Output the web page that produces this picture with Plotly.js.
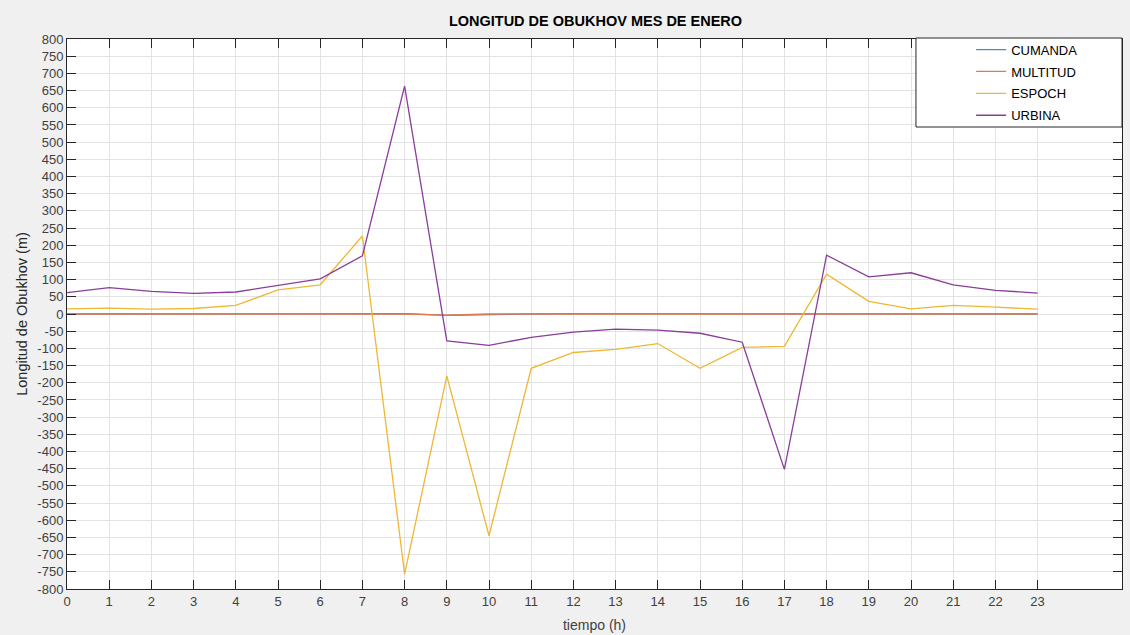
<!DOCTYPE html>
<html>
<head>
<meta charset="utf-8">
<script src="https://cdn.plot.ly/plotly-3.0.1.min.js"></script>
<style>html,body{margin:0;padding:0;background:#f0f0f0;}#chart{width:1130px;height:635px;}</style>
</head>
<body>
<div id="chart"></div>
<script>
const hours = [0,1,2,3,4,5,6,7,8,9,10,11,12,13,14,15,16,17,18,19,20,21,22,23];
const cumanda  = [0,0,0,0,0,0,0,0,1,-4,-1,0,1,1,0,0,0,0,0,0,0,0,0,0];
const multitud = [0,0,0,0,0,0,0,0,0,-3,0,0,0,0,0,0,0,0,0,0,0,0,0,0];
const espoch   = [15,17,14,16,25,70,85,227,-757,-180,-645,-158,-112,-103,-86,-158,-97,-94,116,37,15,25,20,14];
const urbina   = [62,77,66,60,64,84,102,169,663,-78,-91,-68,-53,-44,-47,-56,-82,-452,171,108,120,85,69,61];
const seriesNames = ["CUMANDA","MULTITUD","ESPOCH","URBINA"];
const seriesColors = ["#3d8fcf","#e2784c","#efb732","#8a3d9a"];
const yTicks = [];
for (let v = -800; v <= 800; v += 50) yTicks.push(v);

const values = [cumanda, multitud, espoch, urbina];
const traces = values.map((vals, i) => ({
  x: hours, y: vals, type: 'scatter', mode: 'lines',
  name: seriesNames[i], legendgroup: 'g' + i,
  line: {color: seriesColors[i], width: 1.3}
}));

const FONT = 'Liberation Sans, Arial, sans-serif';
const axisCommon = {
  showline: true, mirror: 'ticks', linecolor: '#262626', linewidth: 1,
  ticks: 'inside', ticklen: 9, tickcolor: '#262626', tickwidth: 1,
  showgrid: true, gridcolor: '#e3e3e3', gridwidth: 1, zeroline: false,
  tickfont: {family: FONT, size: 13, color: '#404040'}
};

const layout = {
  width: 1130, height: 635,
  paper_bgcolor: '#f0f0f0', plot_bgcolor: '#ffffff',
  margin: {l: 67, r: 8, t: 39, b: 46},
  title: {text: '<b>LONGITUD DE OBUKHOV MES DE ENERO</b>', x: 0.527, xanchor: 'center', y: 0.967, yanchor: 'middle',
          font: {family: FONT, size: 14.5, color: '#000000'}},
  xaxis: Object.assign({}, axisCommon, {
    range: [0, 25], tickmode: 'array', tickvals: hours, ticktext: hours.map(String),
    title: {text: 'tiempo (h)', standoff: 12, font: {family: FONT, size: 14, color: '#404040'}}
  }),
  yaxis: Object.assign({}, axisCommon, {
    range: [-800, 800], tickmode: 'array', tickvals: yTicks, ticktext: yTicks.map(String),
    title: {text: 'Longitud de Obukhov (m)', standoff: 6, font: {family: FONT, size: 14.5, color: '#262626'}}
  }),
  showlegend: true,
  legend: {
    x: 0.857, xanchor: 'left', y: 1.008, yanchor: 'top',
    bgcolor: 'rgba(0,0,0,0)', borderwidth: 0, tracegroupgap: 2,
    font: {family: FONT, size: 13, color: '#000000'}
  },
  shapes: [{
    type: 'rect', xref: 'paper', yref: 'paper', layer: 'above',
    x0: 0.8047, x1: 1.0, y0: 0.84, y1: 1.0018,
    fillcolor: '#ffffff', line: {color: '#262626', width: 1}
  }]
};

Plotly.newPlot('chart', traces, layout, {displayModeBar: false, staticPlot: true});
</script>
</body>
</html>
